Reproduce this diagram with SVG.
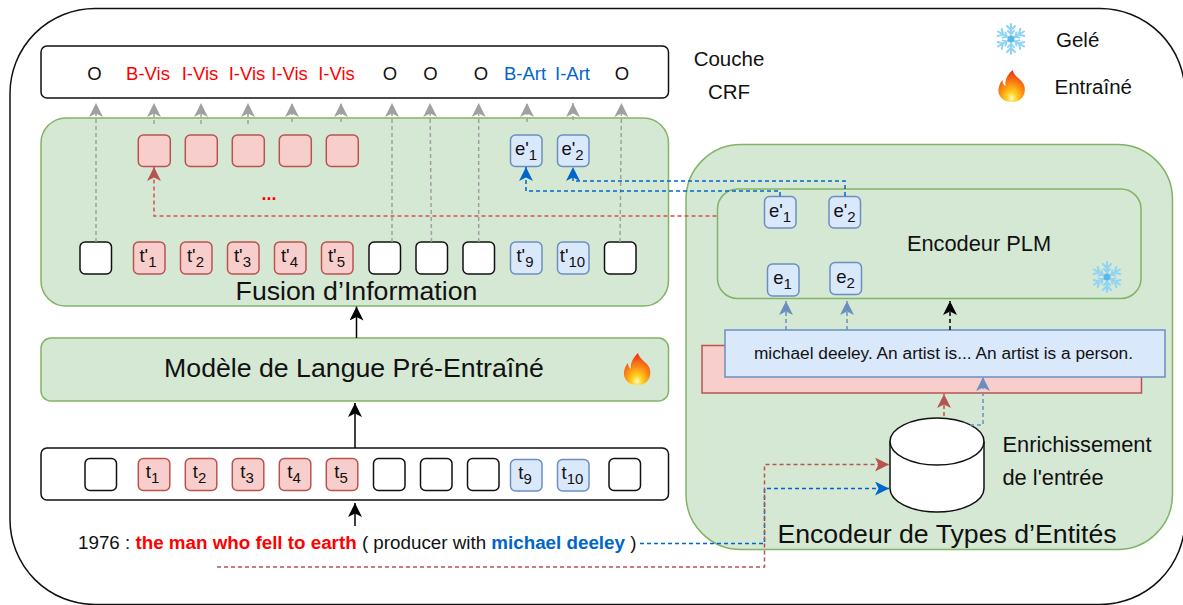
<svg xmlns="http://www.w3.org/2000/svg" width="1183" height="605" viewBox="0 0 1183 605">
<style>
text{font-family:"Liberation Sans",Arial,sans-serif;fill:#111}
.g{fill:#d5e8d4;stroke:#82b366;stroke-width:1.5}
.k{fill:#fff;stroke:#111;stroke-width:1.5}
.r{fill:#f8cecc;stroke:#b85450;stroke-width:1.5}
.b{fill:#dae8fc;stroke:#6c8ebf;stroke-width:1.5}
.c{fill:none;stroke-width:1.5;stroke-dasharray:4 3}
.tok{font-size:18.500px;text-anchor:middle}
.tok tspan{font-size:15px}
.lab{font-size:18.500px;text-anchor:middle}
.red{fill:#ff0000}.blu{fill:#0066cc}
.cg{stroke:#a0a0a0;marker-end:url(#ag)}
.cr{stroke:#b85450;marker-end:url(#ar)}
.cb{stroke:#0066cc;marker-end:url(#ab)}
.cs{stroke:#6c8ebf;marker-end:url(#as)}
.ck{stroke:#000;marker-end:url(#ak)}
.sol{fill:none;stroke:#000;stroke-width:1.5;marker-end:url(#ak)}
.fl{stroke:#8fd3f5;stroke-width:2;fill:none;stroke-linecap:round}
</style>
<defs>
<marker id="ag" markerUnits="userSpaceOnUse" markerWidth="16" markerHeight="16" refX="14" refY="7" orient="auto"><path d="M0,0L14,7L0,14L3.500,7Z" fill="#a0a0a0"/></marker>
<marker id="ar" markerUnits="userSpaceOnUse" markerWidth="16" markerHeight="16" refX="14" refY="7" orient="auto"><path d="M0,0L14,7L0,14L3.500,7Z" fill="#b85450"/></marker>
<marker id="ab" markerUnits="userSpaceOnUse" markerWidth="16" markerHeight="16" refX="14" refY="7" orient="auto"><path d="M0,0L14,7L0,14L3.500,7Z" fill="#0066cc"/></marker>
<marker id="as" markerUnits="userSpaceOnUse" markerWidth="16" markerHeight="16" refX="14" refY="7" orient="auto"><path d="M0,0L14,7L0,14L3.500,7Z" fill="#6c8ebf"/></marker>
<marker id="ak" markerUnits="userSpaceOnUse" markerWidth="16" markerHeight="16" refX="14" refY="7" orient="auto"><path d="M0,0L14,7L0,14L3.500,7Z" fill="#000"/></marker>
<radialGradient id="fg" cx="0.5" cy="0.88" r="0.85"><stop offset="0" stop-color="#fff8c8"/><stop offset="0.22" stop-color="#ffd21f"/><stop offset="0.55" stop-color="#fb8a12"/><stop offset="1" stop-color="#ea2f1c"/></radialGradient>
<g id="flame">
<path d="M1,-16C3,-9 10,-7 12.500,-1C15,6 12,15 2,16C-8,17 -14,10 -13,3C-12.500,-1 -11,-4 -9,-6C-9,-3 -8,-1 -6,0C-7,-7 -3,-12 1,-16Z" fill="url(#fg)"/>
</g>
<g id="flake">
<g id="arm"><path class="fl" d="M0,-15V15M-4,-13L0,-9L4,-13M-4,13L0,9L4,13M-3,-8L0,-5L3,-8M-3,8L0,5L3,8"/></g>
<use href="#arm" transform="rotate(60)"/><use href="#arm" transform="rotate(120)"/>
<circle r="3.500" fill="#5cb8ea"/>
</g>
</defs>

<g id="frame"><rect x="10" y="8.500" width="1175" height="596" rx="85" fill="#fff" stroke="#111" stroke-width="1.500"/></g>

<g id="crf-layer">
<rect class="k" x="41" y="46" width="627.500" height="52" rx="6"/>
<text class="lab" x="94.500" y="80">O</text>
<text class="lab red" x="148" y="80">B-Vis</text>
<text class="lab red" x="200" y="80">I-Vis</text>
<text class="lab red" x="247" y="80">I-Vis</text>
<text class="lab red" x="289.500" y="80">I-Vis</text>
<text class="lab red" x="336.500" y="80">I-Vis</text>
<text class="lab" x="390" y="80">O</text>
<text class="lab" x="430.500" y="80">O</text>
<text class="lab" x="481" y="80">O</text>
<text class="lab blu" x="525" y="80">B-Art</text>
<text class="lab blu" x="572.500" y="80">I-Art</text>
<text class="lab" x="622" y="80">O</text>
</g>
<g id="crf-label">
<text x="729" y="66" font-size="20.500" text-anchor="middle">Couche</text>
<text x="729" y="98.500" font-size="20.500" text-anchor="middle">CRF</text>
</g>
<g id="legend">
<use href="#flake" transform="translate(1011,39)"/>
<text x="1056" y="46.500" font-size="20.500">Gelé</text>
<use href="#flame" transform="translate(1011.500,86)"/>
<text x="1054.500" y="94" font-size="20.500">Entraîné</text>
</g>

<g id="fusion"><rect class="g" x="41" y="118" width="627.500" height="188" rx="25"/>
<text x="356.500" y="300" font-size="26.700" text-anchor="middle">Fusion d’Information</text>
<text x="269" y="200" font-size="18" font-weight="bold" text-anchor="middle" class="red">...</text></g>
<g id="lm"><rect class="g" x="41" y="338" width="627.500" height="63" rx="10"/>
<text x="354" y="377" font-size="26.700" text-anchor="middle">Modèle de Langue Pré-Entraîné</text>
<use href="#flame" transform="translate(637,369)"/></g>
<g id="type-encoder"><rect class="g" x="686" y="144.500" width="486.500" height="405" rx="55"/>
<text x="947" y="543" font-size="26.700" text-anchor="middle">Encodeur de Types d’Entités</text>
<text x="1002.500" y="452" font-size="21.800">Enrichissement</text>
<text x="1002.500" y="485" font-size="21.800">de l'entrée</text></g>
<g id="plm"><rect class="g" x="717.500" y="189" width="423.500" height="109.500" rx="20"/>
<text x="979" y="251" font-size="21.800" text-anchor="middle">Encodeur PLM</text>
<use href="#flake" transform="translate(1107,277)"/></g>
<g id="input-box"><rect class="k" x="41" y="448" width="627.500" height="52" rx="6"/></g>
<g id="input-sentence"><text x="78" y="549" font-size="18.800">1976 : <tspan font-weight="bold" class="red">the man who fell to earth</tspan> ( producer with <tspan font-weight="bold" class="blu">michael deeley</tspan> )</text></g>

<g id="top-v1"><rect class="r" x="138.300" y="135" width="32" height="31.500" rx="5"/></g>
<g id="top-v2"><rect class="r" x="185.300" y="135" width="32" height="31.500" rx="5"/></g>
<g id="top-v3"><rect class="r" x="232.300" y="135" width="32" height="31.500" rx="5"/></g>
<g id="top-v4"><rect class="r" x="279.300" y="135" width="32" height="31.500" rx="5"/></g>
<g id="top-v5"><rect class="r" x="326.300" y="135" width="32" height="31.500" rx="5"/></g>
<g id="top-e1"><rect class="b" x="510.500" y="135" width="31.500" height="31.500" rx="5"/><text class="tok" x="526" y="155">e'<tspan dy="5">1</tspan></text></g>
<g id="top-e2"><rect class="b" x="557.500" y="135" width="31.500" height="31.500" rx="5"/><text class="tok" x="572.500" y="155">e'<tspan dy="5">2</tspan></text></g>

<g id="tp0"><rect class="k" x="80" y="242" width="31.500" height="32" rx="5"/></g>
<g id="tp1"><rect class="r" x="133.500" y="242" width="31.500" height="32" rx="5"/><text class="tok" x="148" y="262">t'<tspan dy="5">1</tspan></text></g>
<g id="tp2"><rect class="r" x="180.500" y="242" width="31.500" height="32" rx="5"/><text class="tok" x="195.500" y="262">t'<tspan dy="5">2</tspan></text></g>
<g id="tp3"><rect class="r" x="227.500" y="242" width="31.500" height="32" rx="5"/><text class="tok" x="242.500" y="262">t'<tspan dy="5">3</tspan></text></g>
<g id="tp4"><rect class="r" x="274.500" y="242" width="31.500" height="32" rx="5"/><text class="tok" x="289.500" y="262">t'<tspan dy="5">4</tspan></text></g>
<g id="tp5"><rect class="r" x="321.500" y="242" width="31.500" height="32" rx="5"/><text class="tok" x="336.500" y="262">t'<tspan dy="5">5</tspan></text></g>
<g id="tp6"><rect class="k" x="369" y="242" width="31.500" height="32" rx="5"/></g>
<g id="tp7"><rect class="k" x="416" y="242" width="31.500" height="32" rx="5"/></g>
<g id="tp8"><rect class="k" x="463" y="242" width="31.500" height="32" rx="5"/></g>
<g id="tp9"><rect class="b" x="510.500" y="242" width="31.500" height="32" rx="5"/><text class="tok" x="525" y="262">t'<tspan dy="5">9</tspan></text></g>
<g id="tp10"><rect class="b" x="557.500" y="242" width="31.500" height="32" rx="5"/><text class="tok" x="572.500" y="262">t'<tspan dy="5">10</tspan></text></g>
<g id="tp11"><rect class="k" x="604.500" y="242" width="31.500" height="32" rx="5"/></g>

<g id="t0"><rect class="k" x="85" y="458.500" width="31.500" height="32" rx="5"/></g>
<g id="t1"><rect class="r" x="138.300" y="458.500" width="31.500" height="32" rx="5"/><text class="tok" x="152.500" y="478">t<tspan dy="5">1</tspan></text></g>
<g id="t2"><rect class="r" x="185.300" y="458.500" width="31.500" height="32" rx="5"/><text class="tok" x="199.500" y="478">t<tspan dy="5">2</tspan></text></g>
<g id="t3"><rect class="r" x="232.300" y="458.500" width="31.500" height="32" rx="5"/><text class="tok" x="247" y="478">t<tspan dy="5">3</tspan></text></g>
<g id="t4"><rect class="r" x="279.300" y="458.500" width="31.500" height="32" rx="5"/><text class="tok" x="294" y="478">t<tspan dy="5">4</tspan></text></g>
<g id="t5"><rect class="r" x="326.300" y="458.500" width="31.500" height="32" rx="5"/><text class="tok" x="341" y="478">t<tspan dy="5">5</tspan></text></g>
<g id="t6"><rect class="k" x="373.500" y="458.500" width="31.500" height="32" rx="5"/></g>
<g id="t7"><rect class="k" x="420.500" y="458.500" width="31.500" height="32" rx="5"/></g>
<g id="t8"><rect class="k" x="467.500" y="458.500" width="31.500" height="32" rx="5"/></g>
<g id="t9"><rect class="b" x="510.500" y="459.500" width="31.500" height="31.500" rx="5"/><text class="tok" x="525" y="479">t<tspan dy="5">9</tspan></text></g>
<g id="t10"><rect class="b" x="557.500" y="459.500" width="31.500" height="31.500" rx="5"/><text class="tok" x="572.500" y="479">t<tspan dy="5">10</tspan></text></g>
<g id="t11"><rect class="k" x="609" y="458.500" width="31.500" height="32" rx="5"/></g>

<g id="plm-e1p"><rect class="b" x="764.500" y="196.500" width="31.500" height="31.500" rx="5"/><text class="tok" x="780" y="216.500">e'<tspan dy="5">1</tspan></text></g>
<g id="plm-e2p"><rect class="b" x="829" y="196.500" width="31.500" height="31.500" rx="5"/><text class="tok" x="844.500" y="216.500">e'<tspan dy="5">2</tspan></text></g>
<g id="plm-e1"><rect class="b" x="767.500" y="264" width="31.500" height="32" rx="5"/><text class="tok" x="782.500" y="284">e<tspan dy="5">1</tspan></text></g>
<g id="plm-e2"><rect class="b" x="830" y="262.500" width="31.500" height="32" rx="5"/><text class="tok" x="845.500" y="282.500">e<tspan dy="5">2</tspan></text></g>

<g id="prompt-red"><rect class="r" x="702" y="345.500" width="439.500" height="47.500"/></g>
<g id="prompt-blue"><rect class="b" x="725" y="330" width="440" height="47"/>
<text x="943.500" y="358.500" font-size="17.300" text-anchor="middle">michael deeley. An artist is... An artist is a person.</text></g>
<g id="database">
<path class="k" d="M890,441.500A47,23.500 0 0 1 984,441.500V488.500A47,23.500 0 0 1 890,488.500Z"/>
<path fill="none" stroke="#111" stroke-width="1.500" d="M890,441.500A47,23.500 0 0 0 984,441.500"/>
</g>

<g id="connectors">
<path class="c cg" d="M96,242V103"/><path class="c cg" d="M154,124V103"/><path class="c cg" d="M201,124V103"/><path class="c cg" d="M248,124V103"/><path class="c cg" d="M292,122V103"/><path class="c cg" d="M341,122V103"/>
<path class="c cg" d="M392,242V103"/><path class="c cg" d="M431.500,242L430,103"/><path class="c cg" d="M478.700,242L478.700,103"/><path class="c cg" d="M527,122V103"/><path class="c cg" d="M573,120V103"/><path class="c cg" d="M620,242L621.500,103"/>
<path class="c cr" style="stroke:#d4504f" d="M716.500,216H154V167"/>
<path class="c cb" d="M780,196V191H526V167"/>
<path class="c cb" d="M845,196V181H573V167"/>
<path class="c cs" d="M786,330V301"/><path class="c cs" d="M847,330V301"/><path class="c ck" d="M950,330V301"/>
<path class="c cr" d="M944,416V394"/>
<path class="c cs" d="M970,425H983V377"/>
<path class="c cb" d="M640,543.500H764.500V488.500H889"/>
<path class="c cr" d="M217,567H764.500V464.500H889"/>
<path class="sol" d="M356.500,338V306.500"/><path class="sol" d="M355,448V403"/><path class="sol" d="M355,526V503"/>
</g>
</svg>
